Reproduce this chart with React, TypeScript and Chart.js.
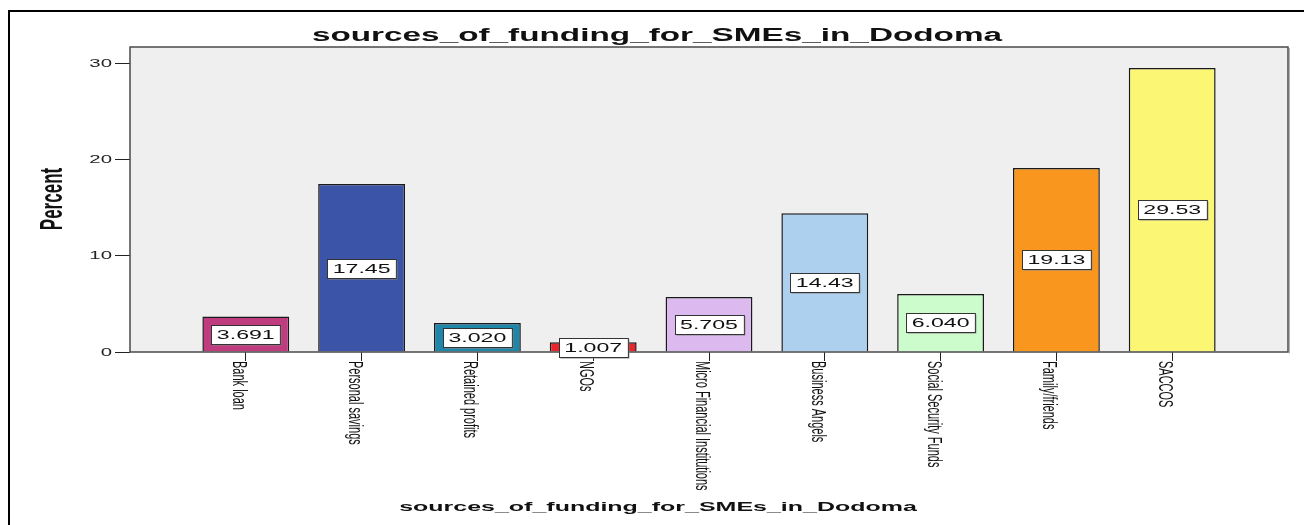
import React, { useEffect, useRef } from "react";
import { Chart, registerables } from "chart.js";

Chart.register(...registerables);

const categories = [
  "Bank loan",
  "Personal savings",
  "Retained profits",
  "NGOs",
  "Micro Financial Institutions",
  "Business Angels",
  "Social Security Funds",
  "Family/friends",
  "SACCOS",
];
const percents = [3.691, 17.45, 3.02, 1.007, 5.705, 14.43, 6.04, 19.13, 29.53];
const barColors = [
  "#bf3d7f",
  "#3c54a8",
  "#1e86a8",
  "#e8262b",
  "#dcbaf0",
  "#acd0ee",
  "#ccfccc",
  "#f8961e",
  "#fbf674",
];
const yTicks = [0, 10, 20, 30];
const chartTitle = "sources_of_funding_for_SMEs_in_Dodoma";
const xTitle = "sources_of_funding_for_SMEs_in_Dodoma";
const yTitle = "Percent";

const SX = 1.85; // horizontal stretch of the original picture
const FONT = '"Liberation Sans", Arial, sans-serif';

function drawText(
  ctx: CanvasRenderingContext2D,
  text: string,
  x: number,
  y: number,
  size: number,
  bold: boolean,
  align: CanvasTextAlign,
  baseline: CanvasTextBaseline,
  angle = 0,
  color = "#111"
) {
  ctx.save();
  ctx.translate(x, y);
  ctx.scale(SX, 1);
  if (angle) ctx.rotate(angle);
  ctx.font = `${bold ? "bold " : ""}${size}px ${FONT}`;
  ctx.textAlign = align;
  ctx.textBaseline = baseline;
  ctx.fillStyle = color;
  ctx.fillText(text, 0, 0);
  ctx.restore();
}

const decorPlugin = {
  id: "decor",
  beforeDraw(chart: any) {
    const { ctx, chartArea: a } = chart;
    ctx.save();
    ctx.fillStyle = "#ffffff";
    ctx.fillRect(0, 0, chart.width, chart.height);
    ctx.fillStyle = "#efefef";
    ctx.fillRect(a.left, a.top, a.right - a.left, a.bottom - a.top);
    ctx.restore();
  },
  afterDraw(chart: any) {
    const { ctx, chartArea: a } = chart;
    const xs = chart.scales.x;
    const ys = chart.scales.y;
    ctx.save();
    // outer frame
    ctx.fillStyle = "#000";
    ctx.fillRect(8, 10, chart.width - 8, 2);
    ctx.fillRect(8, 10, 2, chart.height - 10);
    // plot border with slight shadow
    ctx.strokeStyle = "#b0b0b0";
    ctx.lineWidth = 1;
    ctx.beginPath();
    ctx.moveTo(a.right + 1.5, a.top + 1);
    ctx.lineTo(a.right + 1.5, a.bottom + 1.5);
    ctx.stroke();
    ctx.strokeStyle = "#4a4a4a";
    ctx.lineWidth = 1.5;
    ctx.strokeRect(a.left, a.top, a.right - a.left, a.bottom - a.top);
    ctx.restore();

    // title
    drawText(ctx, chartTitle, 657, 36, 18, true, "center", "middle");
    // x title
    drawText(ctx, xTitle, 658, 507, 13.5, true, "center", "middle");
    // y title
    drawText(ctx, yTitle, 53, 199, 17, true, "center", "middle", -Math.PI / 2);
    // y tick labels
    yTicks.forEach((v) => {
      drawText(ctx, String(v), 112, ys.getPixelForValue(v) + 0.5, 11, false, "right", "middle", 0, "#222");
    });
    // x tick labels (rotated clockwise)
    categories.forEach((c, i) => {
      const px = xs.getPixelForValue(i + 1);
      drawText(ctx, c, px - 13, 361, 11, false, "left", "alphabetic", Math.PI / 2, "#111");
    });
    // value labels
    const meta = chart.getDatasetMeta(0);
    percents.forEach((v, i) => {
      const el = meta.data[i];
      const x = el.x;
      const yc = ys.getPixelForValue(v / 2);
      const text = v.toPrecision(4);
      ctx.save();
      ctx.font = `12.5px ${FONT}`;
      const w = ctx.measureText(text).width * SX;
      const bw = w + 11;
      const bh = 19;
      const bx = Math.round(x - bw / 2) + 0.5;
      const by = Math.round(yc - bh / 2) + 0.5;
      ctx.fillStyle = "#8a8a8a";
      ctx.fillRect(bx + 1, by + 1, bw, bh);
      ctx.fillStyle = "#ffffff";
      ctx.fillRect(bx, by, bw, bh);
      ctx.strokeStyle = "#333";
      ctx.lineWidth = 1;
      ctx.strokeRect(bx, by, bw, bh);
      ctx.restore();
      drawText(ctx, text, x, by + bh / 2 + 0.5, 12.5, false, "center", "middle", 0, "#111");
    });
  },
};

export default function App() {
  const ref = useRef<HTMLCanvasElement | null>(null);
  useEffect(() => {
    if (!ref.current) return;
    const chart = new Chart(ref.current, {
      type: "bar",
      data: {
        datasets: [
          {
            data: percents.map((v, i) => ({ x: i + 1, y: v })),
            backgroundColor: barColors,
            borderColor: "#1a1a1a",
            borderWidth: 1.5,
            barPercentage: 0.75,
            categoryPercentage: 1,
          } as any,
        ],
      },
      options: {
        animation: false,
        responsive: false,
        devicePixelRatio: 1,
        layout: { padding: { left: 0, top: 47, right: 16, bottom: 0 } },
        plugins: {
          legend: { display: false },
          tooltip: { enabled: false },
          title: { display: false },
        },
        scales: {
          x: {
            type: "linear",
            offset: false,
            min: 0,
            max: 10,
            afterBuildTicks: (s: any) => {
              s.ticks = categories.map((_, i) => ({ value: i + 1 }));
            },
            afterFit: (s: any) => {
              s.height = 173;
            },
            ticks: { display: false },
            grid: {
              offset: false,
              drawOnChartArea: false,
              drawTicks: true,
              tickLength: 9,
              color: "#222",
              lineWidth: 1,
            },
            border: { display: false },
          },
          y: {
            type: "linear",
            min: 0,
            max: 31.7,
            afterBuildTicks: (s: any) => {
              s.ticks = yTicks.map((v) => ({ value: v }));
            },
            afterFit: (s: any) => {
              s.width = 130;
            },
            ticks: { display: false },
            grid: {
              drawOnChartArea: false,
              drawTicks: true,
              tickLength: 15,
              color: "#222",
              lineWidth: 1,
            },
            border: { display: false },
          },
        },
      } as any,
      plugins: [decorPlugin],
    });
    return () => chart.destroy();
  }, []);
  return (
    <div style={{ position: "absolute", left: 0, top: 0, width: 1304, height: 525 }}>
      <canvas ref={ref} width={1304} height={525} style={{ display: "block" }} />
    </div>
  );
}
